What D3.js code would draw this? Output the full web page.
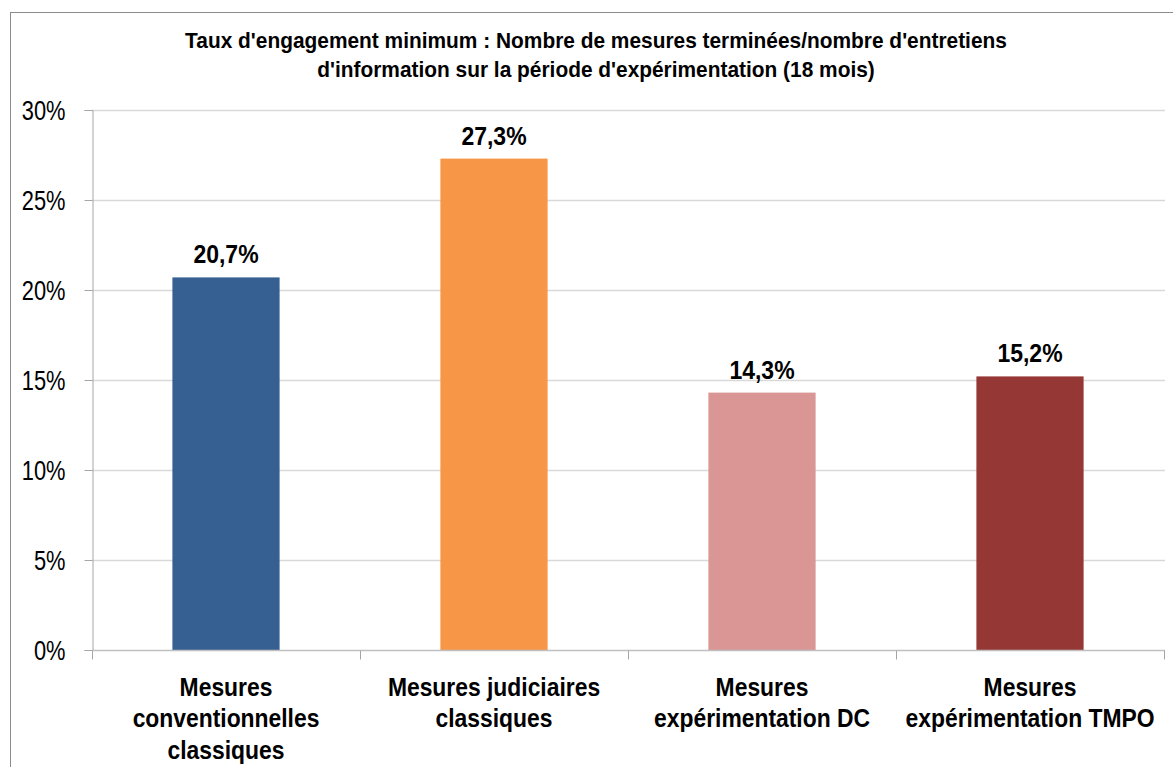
<!DOCTYPE html>
<html>
<head>
<meta charset="utf-8">
<script src="https://cdn.jsdelivr.net/npm/d3@7"></script>
<style>
  html, body { margin: 0; padding: 0; background: #fff; }
  svg { display: block; }
  text { font-family: "Liberation Sans Narrow", "Arial Narrow", "Liberation Sans", Arial, sans-serif; }
</style>
</head>
<body>
<svg id="chart" width="1173" height="767"></svg>
<script>
const titleLines = [
  "Taux d'engagement minimum : Nombre de mesures terminées/nombre d'entretiens",
  "d'information sur la période d'expérimentation (18 mois)"
];
const categories = [
  ["Mesures", "conventionnelles", "classiques"],
  ["Mesures judiciaires", "classiques"],
  ["Mesures", "expérimentation DC"],
  ["Mesures", "expérimentation TMPO"]
];
const values = [20.7, 27.3, 14.3, 15.2];
const valueLabels = ["20,7%", "27,3%", "14,3%", "15,2%"];
const colors = ["#376092", "#F79646", "#D99694", "#953735"];
const yTicks = [0, 5, 10, 15, 20, 25, 30];

(function () {
const svg = d3.select("#chart");
const W = 1173, H = 767;
const pLeft = 92, pRight = 1164, pTop = 110, pBottom = 650;

// helper: horizontally condensed multi-line text anchored at (cx, baseline)
function narrowText(parent, cx, cy, lines, size, weight, sx, lh) {
  const g = parent.append("g").attr("transform", `translate(${cx},${cy}) scale(${sx},1)`);
  const t = g.append("text").attr("x", 0).attr("y", 0).attr("text-anchor", "middle")
    .attr("font-size", size).attr("font-weight", weight).attr("fill", "#000");
  lines.forEach((l, j) => t.append("tspan").attr("x", 0).attr("dy", j === 0 ? 0 : lh).text(l));
  return g;
}

// outer border
svg.append("rect").attr("x", 10.5).attr("y", 12.5).attr("width", W + 10).attr("height", H + 10)
  .attr("fill", "none").attr("stroke", "#8c8c8c").attr("stroke-width", 1);

const x = d3.scaleBand().domain(d3.range(categories.length)).range([pLeft, pRight]).paddingInner(0.6).paddingOuter(0.3);
const xOuter = d3.scaleBand().domain(d3.range(categories.length)).range([pLeft, pRight]);
const y = d3.scaleLinear().domain([0, 30]).range([pBottom, pTop]);

// gridlines
svg.append("g").selectAll("line").data(yTicks.filter(d => d > 0)).join("line")
  .attr("x1", pLeft).attr("x2", pRight + 1)
  .attr("y1", d => Math.round(y(d)) + 0.5).attr("y2", d => Math.round(y(d)) + 0.5)
  .attr("stroke", "#d9d9d9").attr("stroke-width", 1.5);

// y axis
const sxY = 0.81;
const yAxis = d3.axisLeft(y).tickValues(yTicks).tickFormat(d => d + "%").tickSize(8).tickPadding(19);
const gy = svg.append("g").attr("transform", `translate(${pLeft + 0.5},0)`).call(yAxis);
gy.select(".domain").attr("stroke", "#a6a6a6");
gy.selectAll(".tick line").attr("stroke", "#a6a6a6");
gy.selectAll(".tick text").attr("font-size", 27).attr("fill", "#000").attr("dy", "0.36em")
  .attr("x", -27 / sxY).attr("transform", `scale(${sxY},1)`)
  .style("font-family", '"Liberation Sans Narrow", "Arial Narrow", "Liberation Sans", Arial, sans-serif');

// bars
svg.append("g").selectAll("rect").data(values).join("rect")
  .attr("x", (d, i) => x(i)).attr("width", x.bandwidth())
  .attr("y", d => y(d)).attr("height", d => pBottom - y(d))
  .attr("fill", (d, i) => colors[i]);

// x axis
const gx = svg.append("g").attr("transform", `translate(0,${pBottom + 0.5})`);
gx.append("line").attr("x1", pLeft).attr("x2", pRight + 1).attr("stroke", "#bfbfbf").attr("stroke-width", 1.5);
const bounds = d3.range(categories.length + 1).map(i => i < categories.length ? xOuter(i) : xOuter(i - 1) + xOuter.bandwidth());
gx.selectAll("line.tk").data(bounds).join("line").attr("class", "tk")
  .attr("x1", d => Math.round(d) + 0.5).attr("x2", d => Math.round(d) + 0.5)
  .attr("y1", 0).attr("y2", 9).attr("stroke", "#a6a6a6");

// category labels
const cat = svg.append("g");
categories.forEach((lines, i) => {
  narrowText(cat, xOuter(i) + xOuter.bandwidth() / 2, 696, lines, 26, "bold", 0.88, 31.5);
});

// value labels
const vl = svg.append("g");
values.forEach((d, i) => {
  narrowText(vl, x(i) + x.bandwidth() / 2, y(d) - 14, [valueLabels[i]], 25, "bold", 0.92, 0);
});

// title
narrowText(svg, 596, 48, titleLines, 22, "bold", 0.95, 29);
})();
</script>
</body>
</html>
